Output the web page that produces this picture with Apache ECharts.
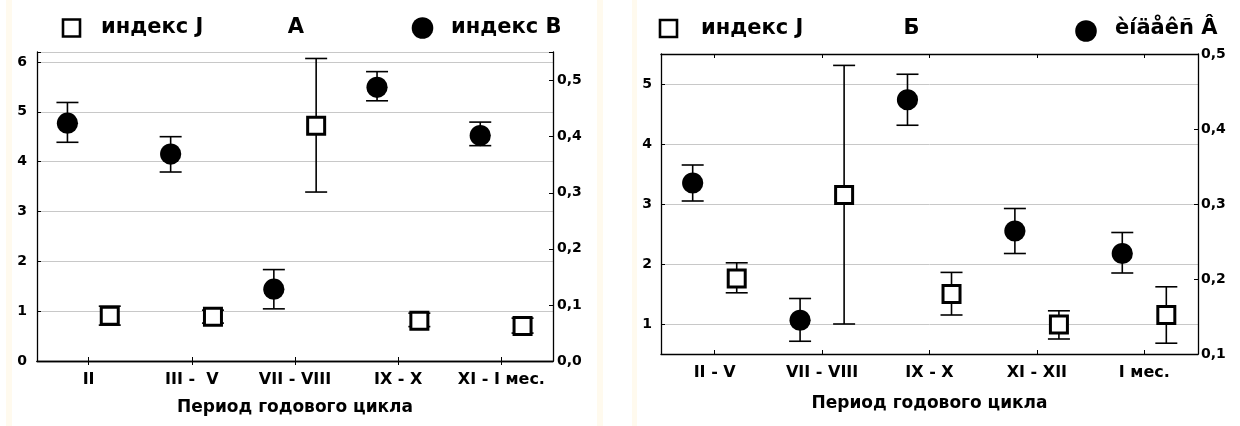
<!DOCTYPE html>
<html>
<head>
<meta charset="utf-8">
<script src="https://cdn.jsdelivr.net/npm/echarts@6/dist/echarts.min.js"></script>
<style>
html,body{margin:0;padding:0;background:#fff;}
#c{width:1240px;height:426px;}
</style>
</head>
<body>
<div id="c"></div>
<script>
// ---------- data ----------
const catsA = ['II', 'III -  V', 'VII - VIII', 'IX - X', 'XI - I мес.'];
const jA    = [0.91, 0.89, 4.72, 0.81, 0.70];
const jA_lo = [0.72, 0.76, 3.39, 0.69, 0.56];
const jA_hi = [1.10, 1.02, 6.07, 0.96, 0.86];
const bA    = [0.424, 0.369, 0.128, 0.488, 0.402];
const bA_lo = [0.390, 0.337, 0.093, 0.464, 0.384];
const bA_hi = [0.461, 0.400, 0.163, 0.516, 0.426];

const catsB = ['II - V', 'VII - VIII', 'IX - X', 'XI - XII', 'I мес.'];
const jB    = [1.76, 3.15, 1.50, 0.99, 1.15];
const jB_lo = [1.52, 1.00, 1.15, 0.75, 0.68];
const jB_hi = [2.02, 5.31, 1.86, 1.22, 1.62];
const bB    = [0.328, 0.145, 0.439, 0.264, 0.234];
const bB_lo = [0.304, 0.117, 0.405, 0.234, 0.208];
const bB_hi = [0.352, 0.174, 0.473, 0.294, 0.262];

const titleA = 'А';
const titleB = 'Б';
const legJ = 'индекс J';
const legBA = 'индекс В';
const legBB = 'èíäåêñ Â';
const xTitle = 'Период годового цикла';

// ---------- helpers ----------
const FONT = '"DejaVu Sans", sans-serif';
function rows(m, lo, hi) { return m.map((v, i) => [i, v, lo[i], hi[i]]); }

function renderer(kind, sign) {
  return function (params, api) {
    const i = api.value(0);
    const c = api.coord([i, api.value(1)]);
    const band = api.size([1, 0])[0];
    const cx = c[0] + sign * 0.205 * band;
    const yLo = api.coord([i, api.value(2)])[1];
    const yHi = api.coord([i, api.value(3)])[1];
    const cap = 11;
    const ls = { stroke: '#000', lineWidth: 1.6 };
    const children = [
      { type: 'line', shape: { x1: cx, y1: yLo, x2: cx, y2: yHi }, style: ls },
      { type: 'line', shape: { x1: cx - cap, y1: yLo, x2: cx + cap, y2: yLo }, style: ls },
      { type: 'line', shape: { x1: cx - cap, y1: yHi, x2: cx + cap, y2: yHi }, style: ls }
    ];
    if (kind === 'circle') {
      children.push({ type: 'circle', shape: { cx: cx, cy: c[1], r: 10.6 }, style: { fill: '#000' } });
    } else {
      children.push({ type: 'rect', shape: { x: cx - 8.5, y: c[1] - 8.5, width: 17, height: 17 },
        style: { fill: '#fff', stroke: '#000', lineWidth: 3 } });
    }
    return { type: 'group', children: children };
  };
}

function fmt(step) {
  return function (v) {
    const k = Math.round(v / step);
    if (Math.abs(k * step - v) > step * 1e-3) return '';
    return step < 1 ? (k * step).toFixed(1).replace('.', ',') : String(k);
  };
}

function xAxisBottom(gi, cats, nameGap) {
  return {
    type: 'category', gridIndex: gi, data: cats, position: 'bottom',
    axisLine: { show: true, lineStyle: { color: '#000', width: 1.3 } },
    axisTick: { show: true, inside: true, length: 4, alignWithLabel: true, lineStyle: { color: '#000' } },
    axisLabel: { fontFamily: FONT, fontWeight: 'bold', fontSize: 16, color: '#000', margin: 11, interval: 0 },
    name: xTitle, nameLocation: 'middle', nameGap: nameGap,
    nameTextStyle: { fontFamily: FONT, fontWeight: 'bold', fontSize: 17, color: '#000' },
    splitLine: { show: false }
  };
}
function xAxisTop(gi, cats) {
  return {
    type: 'category', gridIndex: gi, data: cats, position: 'top',
    axisLine: { show: true, lineStyle: { color: '#000', width: 1.3 } },
    axisTick: { show: true, inside: true, length: 4, alignWithLabel: true, lineStyle: { color: '#000' } },
    axisLabel: { show: false }, splitLine: { show: false }
  };
}
function yAxis(gi, pos, min, max, step, useInterval, grid, margin) {
  const a = {
    type: 'value', gridIndex: gi, position: pos, min: min, max: max,
    axisLine: { show: true, lineStyle: { color: '#000', width: 1.3 } },
    axisTick: { show: true, inside: true, length: 4, lineStyle: { color: '#000' } },
    axisLabel: { fontFamily: FONT, fontWeight: 'bold', fontSize: 14, color: '#000', margin: margin,
      formatter: fmt(step), showMinLabel: true, showMaxLabel: true },
    splitLine: { show: grid, lineStyle: { color: '#c8c8c8', width: 1 } }
  };
  if (useInterval) a.interval = step; else a.splitNumber = 5;
  return a;
}

// ---------- chart ----------
const chart = echarts.init(document.getElementById('c'), null, { renderer: 'canvas' });

const T = { fontFamily: FONT, fontWeight: 'bold', fill: '#000' };
const graphic = [
  { type: 'rect', shape: { x: 6, y: 0, width: 6, height: 426 }, style: { fill: '#fffaee' }, z: -10 },
  { type: 'rect', shape: { x: 597, y: 0, width: 6, height: 426 }, style: { fill: '#fffaee' }, z: -10 },
  { type: 'rect', shape: { x: 632, y: 0, width: 5, height: 426 }, style: { fill: '#fffaee' }, z: -10 },
  // legend A
  { type: 'rect', shape: { x: 63, y: 19.5, width: 17, height: 17 }, style: { fill: '#fff', stroke: '#000', lineWidth: 2.6 } },
  { type: 'text', x: 101, y: 28, style: Object.assign({ text: legJ, fontSize: 21, verticalAlign: 'middle', align: 'left' }, T) },
  { type: 'text', x: 296, y: 28, style: Object.assign({ text: titleA, fontSize: 21, verticalAlign: 'middle', align: 'center' }, T) },
  { type: 'circle', shape: { cx: 422.5, cy: 28, r: 10.8 }, style: { fill: '#000' } },
  { type: 'text', x: 451, y: 28, style: Object.assign({ text: legBA, fontSize: 21, verticalAlign: 'middle', align: 'left' }, T) },
  // legend B
  { type: 'rect', shape: { x: 660, y: 20, width: 17, height: 17 }, style: { fill: '#fff', stroke: '#000', lineWidth: 2.6 } },
  { type: 'text', x: 701, y: 29, style: Object.assign({ text: legJ, fontSize: 21, verticalAlign: 'middle', align: 'left' }, T) },
  { type: 'text', x: 911.5, y: 29, style: Object.assign({ text: titleB, fontSize: 21, verticalAlign: 'middle', align: 'center' }, T) },
  { type: 'circle', shape: { cx: 1086, cy: 31, r: 10.8 }, style: { fill: '#000' } },
  { type: 'text', x: 1115, y: 29, style: Object.assign({ text: legBB, fontSize: 21, verticalAlign: 'middle', align: 'left' }, T) }
];

chart.setOption({
  animation: false,
  backgroundColor: '#fff',
  graphic: graphic,
  grid: [
    { left: 37, top: 52, width: 516, height: 309 },
    { left: 661, top: 54, width: 537, height: 300 }
  ],
  xAxis: [
    xAxisBottom(0, catsA, 38),
    xAxisTop(0, catsA),
    xAxisBottom(1, catsB, 41),
    xAxisTop(1, catsB)
  ],
  yAxis: [
    yAxis(0, 'left', 0, 6.2, 1, true, true, 10),
    yAxis(0, 'right', 0, 0.551, 0.1, true, false, 4),
    yAxis(1, 'left', 0.5, 5.5, 1, false, true, 9),
    yAxis(1, 'right', 0.1, 0.5, 0.1, true, false, 3)
  ],
  series: [
    { type: 'custom', name: legJ, xAxisIndex: 0, yAxisIndex: 0, data: rows(jA, jA_lo, jA_hi),
      encode: { x: 0, y: [1, 2, 3] }, renderItem: renderer('square', 1), z: 3 },
    { type: 'custom', name: legBA, xAxisIndex: 0, yAxisIndex: 1, data: rows(bA, bA_lo, bA_hi),
      encode: { x: 0, y: [1, 2, 3] }, renderItem: renderer('circle', -1), z: 3 },
    { type: 'custom', name: legJ, xAxisIndex: 2, yAxisIndex: 2, data: rows(jB, jB_lo, jB_hi),
      encode: { x: 0, y: [1, 2, 3] }, renderItem: renderer('square', 1), z: 3 },
    { type: 'custom', name: legBB, xAxisIndex: 2, yAxisIndex: 3, data: rows(bB, bB_lo, bB_hi),
      encode: { x: 0, y: [1, 2, 3] }, renderItem: renderer('circle', -1), z: 3 }
  ]
});
</script>
</body>
</html>
